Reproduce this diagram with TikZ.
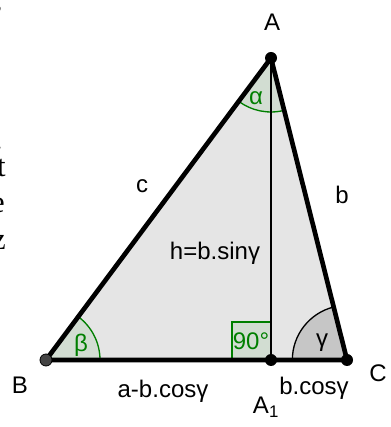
\documentclass[tikz,border=0pt]{standalone}
\usepackage{fontspec}
\setmainfont{Liberation Sans}
\newfontfamily\pageserif{Liberation Serif}
\usetikzlibrary{angles}
\definecolor{trifill}{HTML}{E5E5E5}
\definecolor{anglegreen}{HTML}{007F00}
\definecolor{greenfill}{HTML}{D2DDD2}
\definecolor{gammafill}{HTML}{C6C6C6}
\definecolor{pointgray}{HTML}{444444}
\tikzset{
  vlabel/.style={inner sep=0pt, font=\fontsize{18}{20}\selectfont},
  alabel/.style={inner sep=0pt, text=anglegreen, font=\fontsize{18}{20}\selectfont},
  pagetext/.style={inner sep=0pt, anchor=base east, font=\pageserif\fontsize{23}{26}\selectfont},
  ptdot/.style={circle, fill=black, inner sep=0pt, minimum size=9pt},
}

\begin{document}
\begin{tikzpicture}[x=0.75pt, y=0.75pt, line width=3.5pt]
  \useasboundingbox (0,0) rectangle (390,427);
  \clip (0,0) rectangle (390,427);
  % vertices
  \coordinate (A) at (271,369);
  \coordinate (B) at (46,67);
  \coordinate (C) at (347,67);
  \coordinate (A1) at (271,67);
  \fill[trifill] (A) -- (B) -- (C) -- cycle;
  % angles
  \pic[draw=anglegreen, fill=greenfill, line width=1pt, angle radius=40.5pt] {angle=C--B--A};
  \pic[draw=anglegreen, fill=greenfill, line width=1pt, angle radius=40.5pt] {angle=B--A--C};
  \pic[draw=black, fill=gammafill, line width=1pt, angle radius=41pt] {angle=A--C--B};
  \draw[anglegreen, fill=greenfill, line width=1pt] (A1) rectangle ++(-39,38);
  % sides and height
  \draw[line join=round] (A) -- (B) -- (C) -- cycle;
  \draw[line width=1.5pt] (A) -- (A1);
  \node[ptdot] (pA) at (A) {};
  \node[ptdot, fill=pointgray, draw=black, line width=0.6pt] (pB) at (B) {};
  \node[ptdot] (pC) at (C) {};
  \node[ptdot] (pA1) at (A1) {};
  % labels
  \node[vlabel] (lA) at (272,405) {A};
  \node[vlabel] (lB) at (20,42) {B};
  \node[vlabel] (lC) at (378,54) {C};
  \node[vlabel] (lA1) at (266,20) {A\textsubscript{1}};
  \node[vlabel] (lc) at (142,241) {c};
  \node[vlabel] (lb) at (342,232) {b};
  \node[vlabel] (lh) at (215,174) {h=b.sinγ};
  \node[vlabel] (lab) at (163,36) {a-b.cosγ};
  \node[vlabel] (lbc) at (314,39) {b.cosγ};
  \node[alabel] (lalpha) at (256,329) {α};
  \node[alabel] (lbeta) at (81,82) {β};
  \node[vlabel] (lgamma) at (322,84) {γ};
  \node[alabel] (l90) at (251,86) {90°};
  % cut text of the page
  \node[pagetext] (f1) at (5,417) {,};
  \node[pagetext] (f2) at (5,277) {.};
  \node[pagetext] (f3) at (8,250) {t};
  \node[pagetext] (f4) at (7,214) {e};
  \node[pagetext] (f5) at (8,177) {z};
\end{tikzpicture}
\end{document}
